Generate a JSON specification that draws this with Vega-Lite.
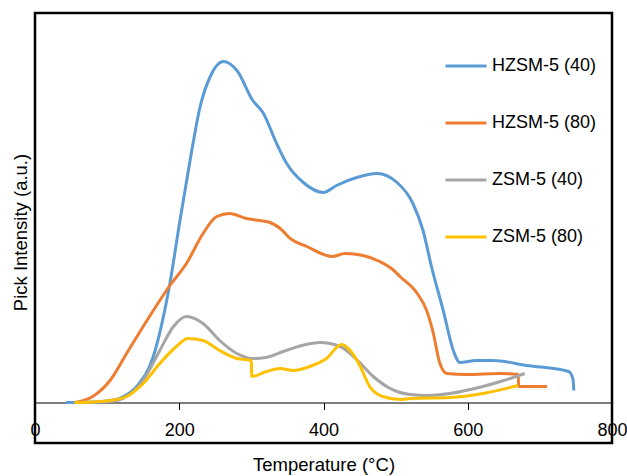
{
  "$schema": "https://vega.github.io/schema/vega-lite/v6.json",
  "width": 577,
  "height": 430,
  "autosize": {"type": "none"},
  "padding": {"left": 35, "top": 13, "right": 15, "bottom": 33},
  "background": "white",
  "config": {
    "view": {"stroke": "black", "strokeWidth": 2.5},
    "font": "Liberation Sans"
  },
  "data": {
    "values": [
      {"s": "HZSM-5 (40)", "T": 43, "v": 0},
      {"s": "HZSM-5 (40)", "T": 70, "v": 0},
      {"s": "HZSM-5 (40)", "T": 100, "v": 1.5},
      {"s": "HZSM-5 (40)", "T": 120, "v": 5},
      {"s": "HZSM-5 (40)", "T": 141, "v": 16},
      {"s": "HZSM-5 (40)", "T": 164, "v": 46},
      {"s": "HZSM-5 (40)", "T": 187, "v": 119},
      {"s": "HZSM-5 (40)", "T": 201, "v": 182},
      {"s": "HZSM-5 (40)", "T": 215, "v": 242},
      {"s": "HZSM-5 (40)", "T": 229, "v": 296},
      {"s": "HZSM-5 (40)", "T": 243, "v": 326},
      {"s": "HZSM-5 (40)", "T": 261, "v": 341},
      {"s": "HZSM-5 (40)", "T": 280, "v": 332},
      {"s": "HZSM-5 (40)", "T": 302, "v": 302},
      {"s": "HZSM-5 (40)", "T": 316, "v": 290},
      {"s": "HZSM-5 (40)", "T": 335, "v": 259},
      {"s": "HZSM-5 (40)", "T": 349, "v": 239},
      {"s": "HZSM-5 (40)", "T": 372, "v": 220},
      {"s": "HZSM-5 (40)", "T": 400, "v": 210},
      {"s": "HZSM-5 (40)", "T": 418, "v": 217},
      {"s": "HZSM-5 (40)", "T": 446, "v": 225},
      {"s": "HZSM-5 (40)", "T": 474, "v": 229},
      {"s": "HZSM-5 (40)", "T": 502, "v": 220},
      {"s": "HZSM-5 (40)", "T": 524, "v": 199},
      {"s": "HZSM-5 (40)", "T": 538, "v": 172},
      {"s": "HZSM-5 (40)", "T": 550, "v": 135},
      {"s": "HZSM-5 (40)", "T": 566, "v": 92},
      {"s": "HZSM-5 (40)", "T": 580, "v": 52},
      {"s": "HZSM-5 (40)", "T": 589, "v": 40},
      {"s": "HZSM-5 (40)", "T": 612, "v": 42},
      {"s": "HZSM-5 (40)", "T": 635, "v": 42},
      {"s": "HZSM-5 (40)", "T": 682, "v": 37},
      {"s": "HZSM-5 (40)", "T": 740, "v": 31},
      {"s": "HZSM-5 (40)", "T": 746, "v": 23},
      {"s": "HZSM-5 (40)", "T": 747, "v": 12},
      {"s": "HZSM-5 (80)", "T": 55, "v": 0},
      {"s": "HZSM-5 (80)", "T": 80, "v": 6},
      {"s": "HZSM-5 (80)", "T": 104, "v": 22},
      {"s": "HZSM-5 (80)", "T": 127, "v": 49},
      {"s": "HZSM-5 (80)", "T": 150, "v": 76},
      {"s": "HZSM-5 (80)", "T": 173, "v": 102},
      {"s": "HZSM-5 (80)", "T": 187, "v": 117},
      {"s": "HZSM-5 (80)", "T": 210, "v": 139},
      {"s": "HZSM-5 (80)", "T": 233, "v": 169},
      {"s": "HZSM-5 (80)", "T": 252, "v": 186},
      {"s": "HZSM-5 (80)", "T": 270, "v": 189},
      {"s": "HZSM-5 (80)", "T": 293, "v": 184},
      {"s": "HZSM-5 (80)", "T": 312, "v": 182},
      {"s": "HZSM-5 (80)", "T": 326, "v": 180},
      {"s": "HZSM-5 (80)", "T": 340, "v": 174},
      {"s": "HZSM-5 (80)", "T": 354, "v": 164},
      {"s": "HZSM-5 (80)", "T": 377, "v": 156},
      {"s": "HZSM-5 (80)", "T": 412, "v": 146},
      {"s": "HZSM-5 (80)", "T": 430, "v": 149},
      {"s": "HZSM-5 (80)", "T": 455, "v": 147},
      {"s": "HZSM-5 (80)", "T": 478, "v": 141},
      {"s": "HZSM-5 (80)", "T": 496, "v": 133},
      {"s": "HZSM-5 (80)", "T": 506, "v": 126},
      {"s": "HZSM-5 (80)", "T": 530, "v": 109},
      {"s": "HZSM-5 (80)", "T": 543, "v": 92},
      {"s": "HZSM-5 (80)", "T": 552, "v": 70},
      {"s": "HZSM-5 (80)", "T": 561, "v": 40},
      {"s": "HZSM-5 (80)", "T": 571, "v": 29},
      {"s": "HZSM-5 (80)", "T": 599, "v": 28},
      {"s": "HZSM-5 (80)", "T": 645, "v": 29},
      {"s": "HZSM-5 (80)", "T": 670, "v": 28},
      {"s": "HZSM-5 (80)", "T": 670.5, "v": 16},
      {"s": "HZSM-5 (80)", "T": 710, "v": 16},
      {"s": "ZSM-5 (40)", "T": 55, "v": 0},
      {"s": "ZSM-5 (40)", "T": 104, "v": 1},
      {"s": "ZSM-5 (40)", "T": 127, "v": 6},
      {"s": "ZSM-5 (40)", "T": 150, "v": 22},
      {"s": "ZSM-5 (40)", "T": 173, "v": 52},
      {"s": "ZSM-5 (40)", "T": 192, "v": 76},
      {"s": "ZSM-5 (40)", "T": 210, "v": 86},
      {"s": "ZSM-5 (40)", "T": 233, "v": 79},
      {"s": "ZSM-5 (40)", "T": 256, "v": 62},
      {"s": "ZSM-5 (40)", "T": 280, "v": 49},
      {"s": "ZSM-5 (40)", "T": 300, "v": 44},
      {"s": "ZSM-5 (40)", "T": 320, "v": 45},
      {"s": "ZSM-5 (40)", "T": 344, "v": 51},
      {"s": "ZSM-5 (40)", "T": 370, "v": 57},
      {"s": "ZSM-5 (40)", "T": 395, "v": 60},
      {"s": "ZSM-5 (40)", "T": 423, "v": 56},
      {"s": "ZSM-5 (40)", "T": 446, "v": 43},
      {"s": "ZSM-5 (40)", "T": 469, "v": 26},
      {"s": "ZSM-5 (40)", "T": 490, "v": 15},
      {"s": "ZSM-5 (40)", "T": 502, "v": 11},
      {"s": "ZSM-5 (40)", "T": 520, "v": 8},
      {"s": "ZSM-5 (40)", "T": 545, "v": 7},
      {"s": "ZSM-5 (40)", "T": 575, "v": 9},
      {"s": "ZSM-5 (40)", "T": 621, "v": 16},
      {"s": "ZSM-5 (40)", "T": 650, "v": 22},
      {"s": "ZSM-5 (40)", "T": 679, "v": 29},
      {"s": "ZSM-5 (80)", "T": 55, "v": 0},
      {"s": "ZSM-5 (80)", "T": 80, "v": 0.5},
      {"s": "ZSM-5 (80)", "T": 104, "v": 2},
      {"s": "ZSM-5 (80)", "T": 127, "v": 6},
      {"s": "ZSM-5 (80)", "T": 150, "v": 19},
      {"s": "ZSM-5 (80)", "T": 173, "v": 39},
      {"s": "ZSM-5 (80)", "T": 196, "v": 56},
      {"s": "ZSM-5 (80)", "T": 212, "v": 64},
      {"s": "ZSM-5 (80)", "T": 233, "v": 62},
      {"s": "ZSM-5 (80)", "T": 256, "v": 52},
      {"s": "ZSM-5 (80)", "T": 280, "v": 44},
      {"s": "ZSM-5 (80)", "T": 300, "v": 42},
      {"s": "ZSM-5 (80)", "T": 300.5, "v": 26},
      {"s": "ZSM-5 (80)", "T": 321, "v": 31},
      {"s": "ZSM-5 (80)", "T": 340, "v": 34},
      {"s": "ZSM-5 (80)", "T": 358, "v": 32},
      {"s": "ZSM-5 (80)", "T": 381, "v": 36},
      {"s": "ZSM-5 (80)", "T": 404, "v": 44},
      {"s": "ZSM-5 (80)", "T": 425, "v": 58},
      {"s": "ZSM-5 (80)", "T": 437, "v": 52},
      {"s": "ZSM-5 (80)", "T": 451, "v": 36},
      {"s": "ZSM-5 (80)", "T": 464, "v": 16},
      {"s": "ZSM-5 (80)", "T": 482, "v": 6},
      {"s": "ZSM-5 (80)", "T": 506, "v": 3},
      {"s": "ZSM-5 (80)", "T": 520, "v": 4},
      {"s": "ZSM-5 (80)", "T": 575, "v": 5},
      {"s": "ZSM-5 (80)", "T": 621, "v": 9},
      {"s": "ZSM-5 (80)", "T": 670, "v": 17}
    ]
  },
  "mark": {"type": "line", "strokeWidth": 3, "interpolate": "monotone", "clip": true},
  "encoding": {
    "x": {
      "field": "T",
      "type": "quantitative",
      "scale": {"domain": [0, 800], "nice": false, "zero": false},
      "axis": {
        "title": "Temperature (°C)",
        "values": [0, 200, 400, 600, 800],
        "offset": -40.5,
        "grid": false,
        "domainColor": "black",
        "domainWidth": 1,
        "tickColor": "black",
        "tickSize": 7,
        "labelFontSize": 18,
        "labelColor": "black",
        "labelPadding": 12,
        "labelFlush": false,
        "labelOverlap": false,
        "labelBound": false,
        "titleFontSize": 18.5,
        "titleFontWeight": "normal",
        "titleColor": "black",
        "titlePadding": 16
      }
    },
    "y": {
      "field": "v",
      "type": "quantitative",
      "scale": {"domain": [-40.5, 389.5], "nice": false, "zero": false},
      "axis": {
        "title": "Pick Intensity (a.u.)",
        "labels": false,
        "ticks": false,
        "domain": false,
        "grid": false,
        "titleFontSize": 18.5,
        "titleFontWeight": "normal",
        "titleColor": "black",
        "titlePadding": 5,
        "titleY": 219
      }
    },
    "color": {
      "field": "s",
      "type": "nominal",
      "scale": {
        "domain": ["HZSM-5 (40)", "HZSM-5 (80)", "ZSM-5 (40)", "ZSM-5 (80)"],
        "range": ["#5B9BD5", "#ED7D31", "#A5A5A5", "#FFC000"]
      },
      "legend": {
        "title": null,
        "orient": "none",
        "legendX": 409,
        "legendY": 31,
        "padding": 0,
        "symbolType": "stroke",
        "symbolSize": 1681,
        "symbolStrokeWidth": 3,
        "labelFontSize": 18,
        "labelColor": "black",
        "labelOffset": 4,
        "rowPadding": 26,
        "labelLimit": 300
      }
    }
  }
}
